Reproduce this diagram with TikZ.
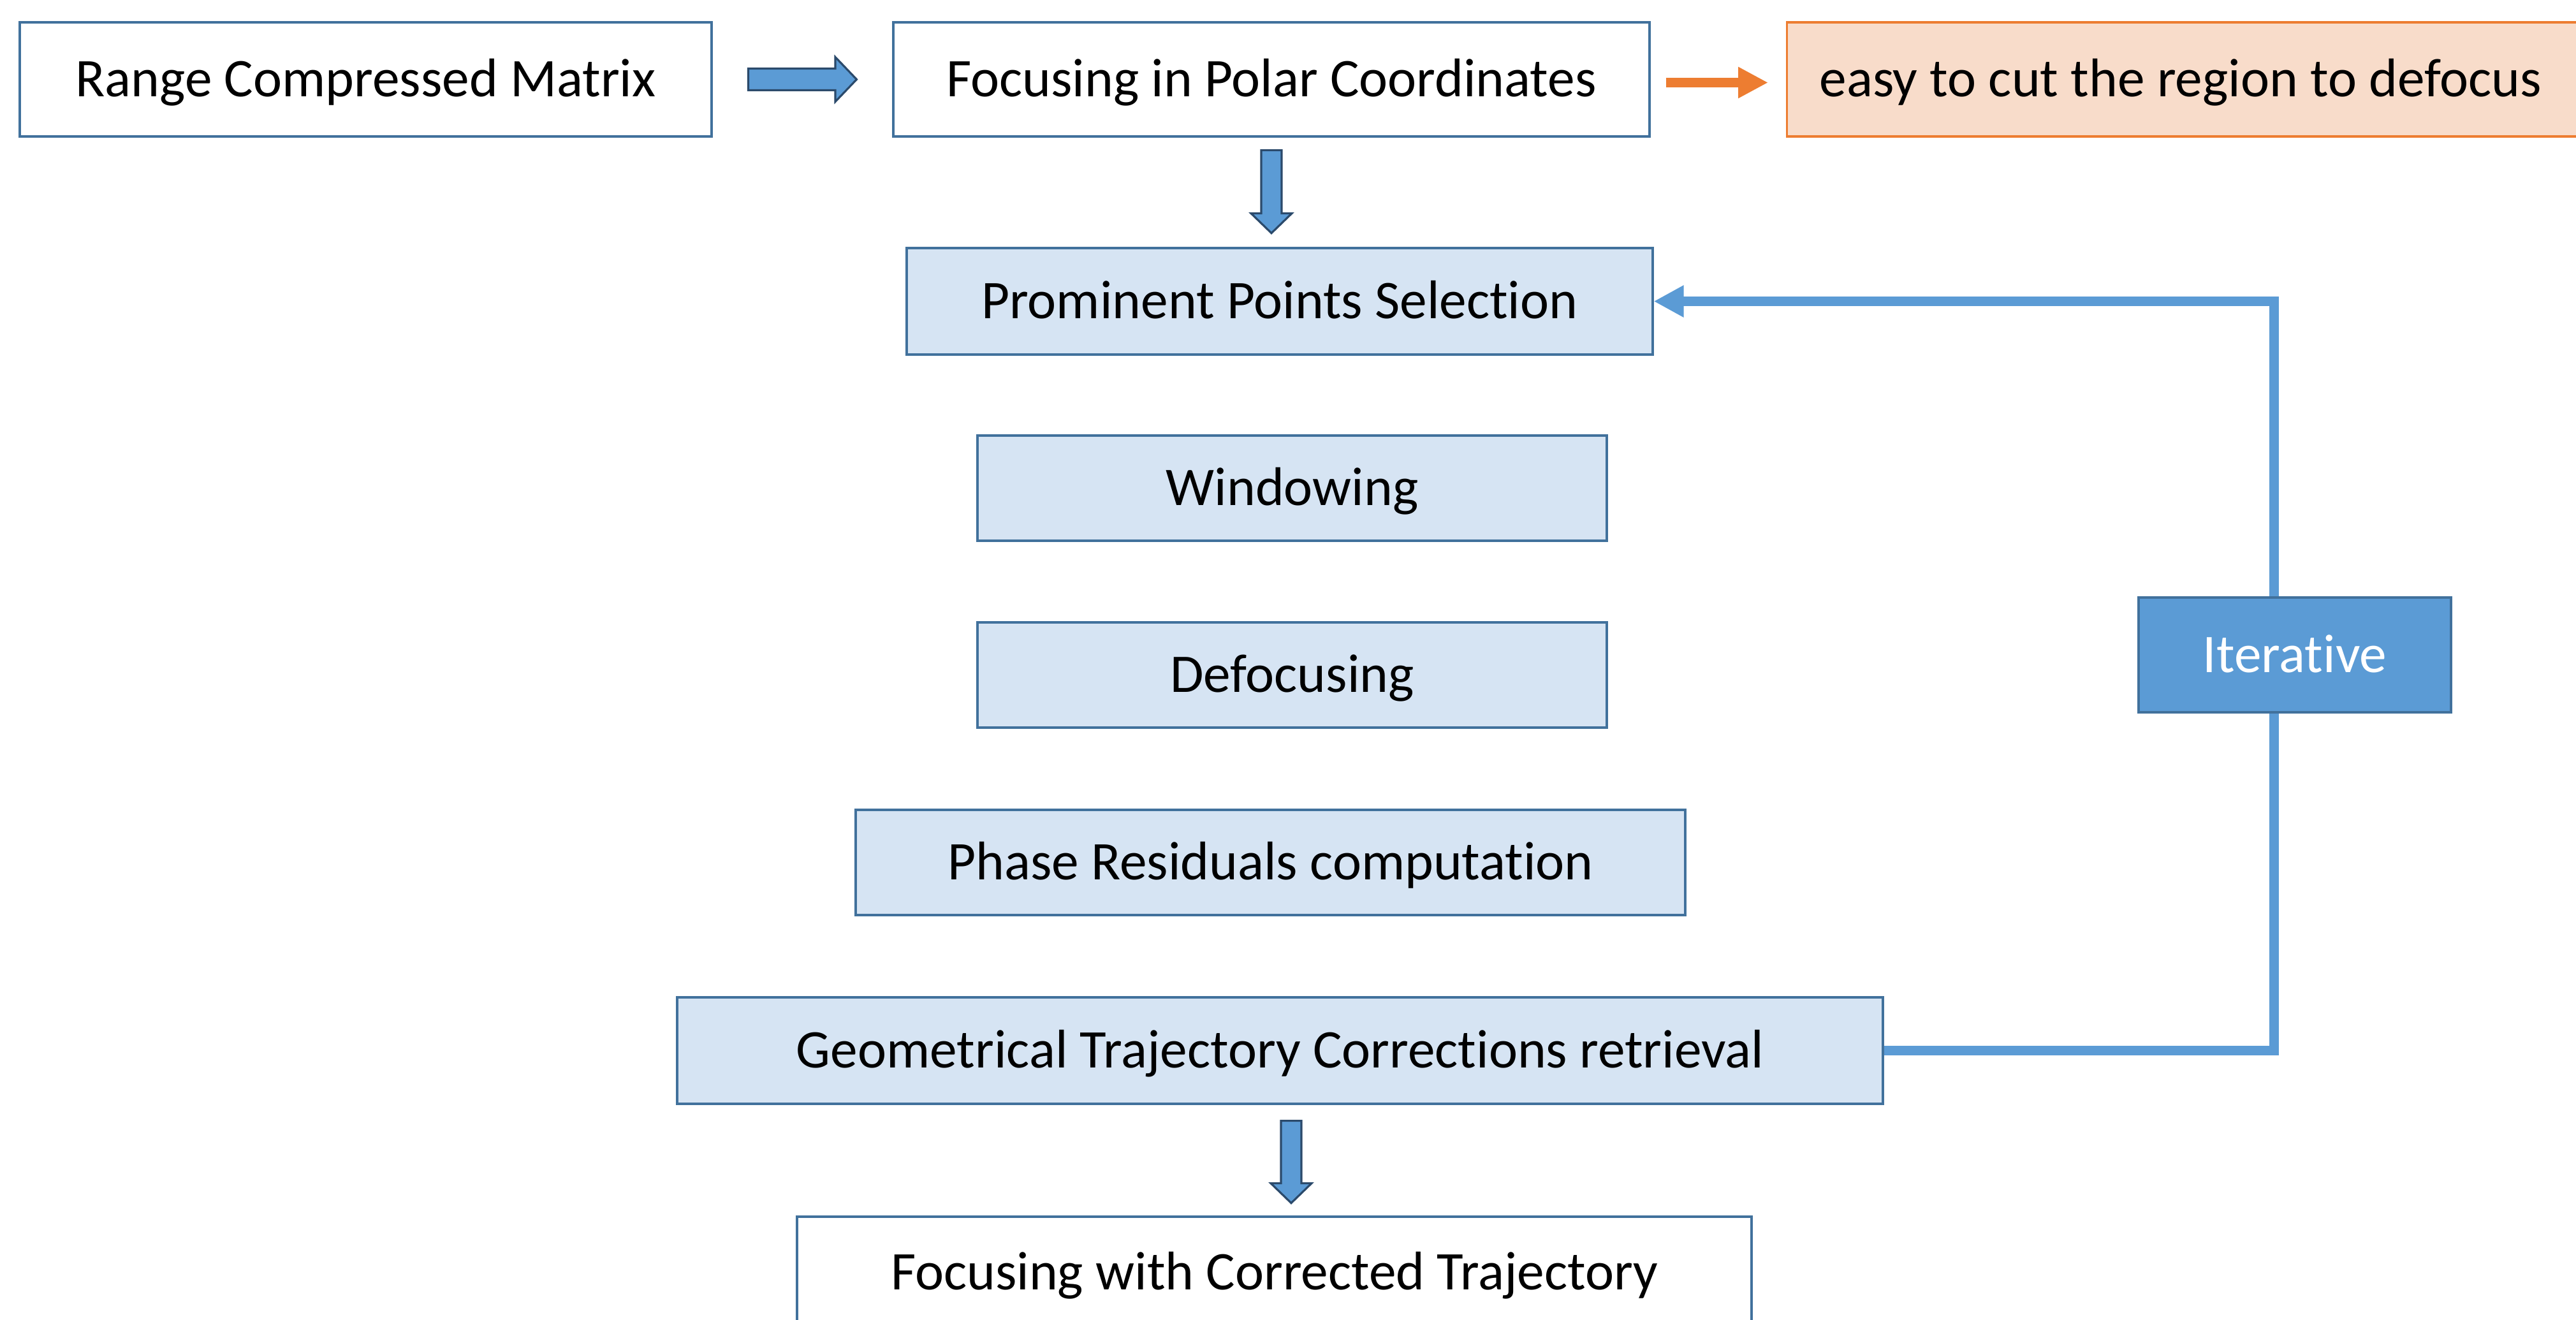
\documentclass[tikz,border=0pt]{standalone}
\usepackage{fontspec}
\setmainfont{Carlito}[Ligatures=NoCommon]
\usetikzlibrary{arrows.meta,calc}
\definecolor{pblue}{HTML}{5B9BD5}
\definecolor{pedge}{HTML}{41719C}
\definecolor{plite}{HTML}{D6E4F3}
\definecolor{porange}{HTML}{ED7D31}
\definecolor{ppeach}{HTML}{F8DCCA}
\definecolor{pdark}{HTML}{2B4A6B}
\tikzset{
  box/.style={draw=pedge,fill=white,line width=0.9pt,font=\fontsize{24.3}{29}\selectfont,text height=21.5pt,text depth=6pt,inner sep=0pt},
  lite/.style={box,fill=plite},
  warn/.style={box,draw=porange,fill=ppeach},
  dark/.style={box,fill=pblue,text=white},
  barr/.style={draw=pdark,fill=pblue,line width=0.9pt,line join=miter},
  oarr/.style={-{Triangle[length=0.47cm,width=0.46cm]},line width=0.15cm,draw=porange},
  fbarr/.style={-{Triangle[length=0.47cm,width=0.47cm]},line width=0.15cm,draw=pblue,line join=miter},
}
\begin{document}
\begin{tikzpicture}
  \useasboundingbox (0,0) rectangle (40.40,-20.69);
  \clip (0,0) rectangle (40.40,-20.69);
  % top row
  \node[box,minimum width=10.85cm,minimum height=1.79cm] (rcm) at (5.735,-1.245) {Range Compressed Matrix};
  \node[box,minimum width=11.86cm,minimum height=1.79cm] (polar) at (19.94,-1.245) {Focusing in Polar Coordinates};
  \node[warn,anchor=west,inner xsep=0.51cm,minimum height=1.79cm] (easy) at (28.01,-1.245) {\makebox[13cm][l]{easy to cut the region to defocus}};
  % autofocus steps
  \node[lite,minimum width=11.70cm,minimum height=1.67cm] (prom) at (20.07,-4.725) {Prominent Points Selection};
  \node[lite,minimum width=9.87cm,minimum height=1.65cm] (win) at (20.265,-7.655) {Windowing};
  \node[lite,minimum width=9.87cm,minimum height=1.65cm] (defoc) at (20.265,-10.585) {Defocusing};
  \node[lite,minimum width=13.01cm,minimum height=1.65cm] (phase) at (19.925,-13.525) {Phase Residuals computation};
  \node[lite,minimum width=18.91cm,minimum height=1.67cm] (geo) at (20.075,-16.475) {Geometrical Trajectory Corrections retrieval};
  \node[box,minimum width=14.97cm,minimum height=1.75cm] (corr) at (19.985,-19.955) {Focusing with Corrected Trajectory};
  % block arrows
  \draw[barr] ($(rcm.east)!0.5!(polar.west)+(-0.85,0.17)$) -- ++(1.365,0) -- ++(0,0.18) -- ++(0.335,-0.35) -- ++(-0.335,-0.35) -- ++(0,0.18) -- ++(-1.365,0) -- cycle;
  \draw[barr] ($(polar.south)+(-0.16,-0.20)$) -- ++(0.32,0) -- ++(0,-0.99) -- ++(0.16,0) -- ++(-0.32,-0.31) -- ++(-0.32,0.31) -- ++(0.16,0) -- cycle;
  \draw[barr] ($(geo.south)+(0.015,-0.25)$) -- ++(0.32,0) -- ++(0,-0.98) -- ++(0.16,0) -- ++(-0.32,-0.31) -- ++(-0.32,0.31) -- ++(0.16,0) -- cycle;
  \draw[oarr] ($(polar.east)+(0.24,-0.05)$) -- ($(easy.west)+(-0.28,-0.05)$);
  % loop back
  \coordinate (back) at (35.66,0);
  \draw[fbarr] (geo.east) -- (geo.east -| back) -- (prom.east -| back) -- (prom.east);
  \node[dark,minimum width=4.90cm,minimum height=1.80cm] (iter) at (35.99,-10.27) {Iterative};
\end{tikzpicture}
\end{document}
